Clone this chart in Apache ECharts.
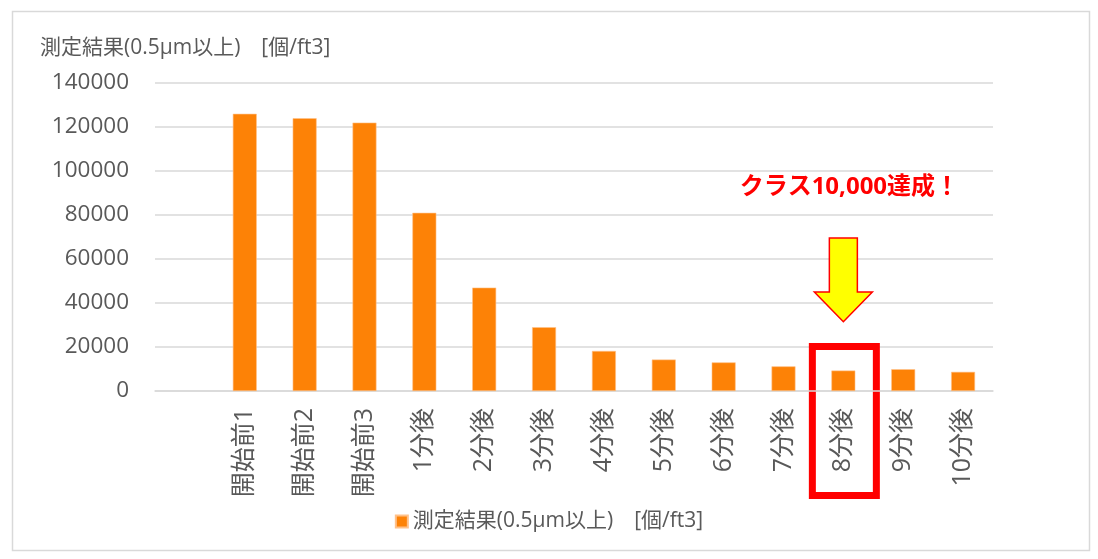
<!DOCTYPE html>
<html><head><meta charset="utf-8">
<script src="https://cdn.jsdelivr.net/npm/echarts@6/dist/echarts.min.js"></script>
<style>html,body{margin:0;padding:0;background:#fff}#c{width:1098px;height:559px}</style>
</head><body><div id="c"></div>
<script>
const categories = ['', '開始前1', '開始前2', '開始前3', '1分後', '2分後', '3分後', '4分後', '5分後', '6分後', '7分後', '8分後', '9分後', '10分後'];
const values = [null, 126000, 124000, 122000, 81000, 47000, 29000, 18200, 14300, 13000, 11200, 9300, 9900, 8700];
const yTicks = { min: 0, max: 140000, interval: 20000 };
const seriesName = '測定結果(0.5µm以上)　[個/ft3]';
const noteText = 'クラス10,000達成！';
const highlightCat = '8分後';

const FONT = "'Open Sans','Noto Sans CJK JP',sans-serif";
const chart = echarts.init(document.getElementById('c'));
const option = {
  animation: false,
  backgroundColor: '#fff',
  title: {
    text: seriesName, left: 35, top: 33,
    textStyle: { fontFamily: FONT, fontSize: 21, fontWeight: 'normal', color: '#595959' }
  },
  grid: { left: 155, right: 105, top: 83, bottom: 168 },
  legend: {
    bottom: 22, left: 'center', itemWidth: 12, itemHeight: 12, itemGap: 5,
    icon: 'rect',
    textStyle: { fontFamily: FONT, fontSize: 21, color: '#595959' }
  },
  xAxis: {
    type: 'category', data: categories,
    axisLine: { show: true, lineStyle: { color: '#D9D9D9', width: 1.5 } },
    axisTick: { show: false },
    axisLabel: { rotate: 90, margin: 17, interval: 0, fontFamily: FONT, fontSize: 25, color: '#595959' }
  },
  yAxis: {
    type: 'value', min: yTicks.min, max: yTicks.max, interval: yTicks.interval,
    axisLine: { show: false }, axisTick: { show: false },
    splitLine: { lineStyle: { color: '#D9D9D9', width: 1.5 } },
    axisLabel: { margin: 26, fontFamily: FONT, fontSize: 22.5, color: '#595959', formatter: v => String(v) }
  },
  series: [{
    name: seriesName, type: 'bar', data: values, barWidth: '40%',
    itemStyle: { color: '#FD8206', borderColor: '#FFC18A', borderWidth: 0.6 }
  }]
};
chart.setOption(option);

const cx = chart.convertToPixel({ xAxisIndex: 0 }, highlightCat);
const yAt = v => chart.convertToPixel({ yAxisIndex: 0 }, v);
const arrowTop = yAt(70000) + 1, headY = yAt(45000), tipY = yAt(31500);
chart.setOption({
  graphic: [
    { type: 'rect', left: 10, top: 9, shape: { width: 1077, height: 539 }, style: { fill: 'none', stroke: '#D9D9D9', lineWidth: 1.5 }, silent: true },
    { type: 'text', x: cx + 6, y: yAt(92500), style: { text: noteText, fill: '#FF0000', font: "bold 24px " + FONT, textAlign: 'center', textVerticalAlign: 'middle' } },
    { type: 'polygon', shape: { points: [
        [cx - 14, arrowTop], [cx + 14, arrowTop], [cx + 14, headY], [cx + 29, headY],
        [cx, tipY], [cx - 29, headY], [cx - 14, headY]
      ] }, style: { fill: '#FFFF00', stroke: '#FF0000', lineWidth: 1.5 } },
    { type: 'rect', shape: { x: cx - 31, y: yAt(20000) - 0.5, width: 64, height: 149 }, style: { fill: 'none', stroke: '#FF0000', lineWidth: 7 } }
  ]
});
</script></body></html>
